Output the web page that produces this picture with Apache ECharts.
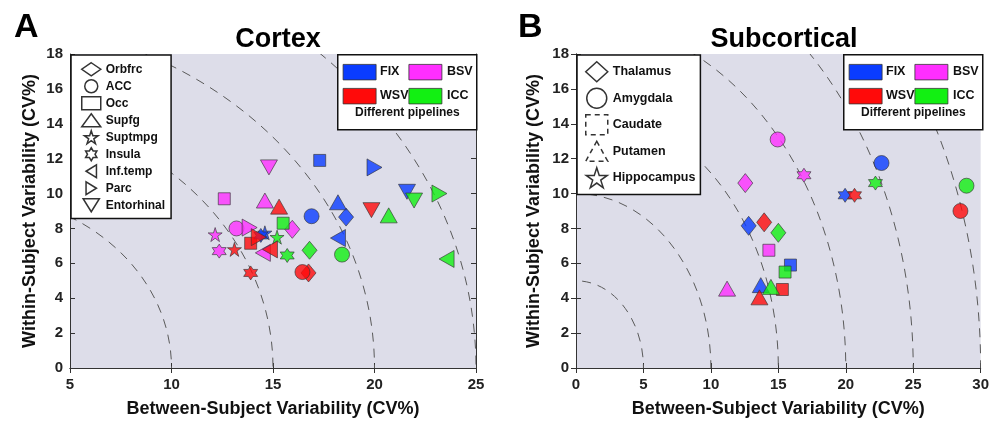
<!DOCTYPE html>
<html>
<head>
<meta charset="utf-8">
<script src="https://cdn.jsdelivr.net/npm/echarts@6/dist/echarts.min.js"></script>
<style>
  html, body { margin: 0; padding: 0; background: #fff; }
  #main { width: 992px; height: 427px; }
</style>
</head>
<body>
<div id="main"></div>
<script>
// pipelines (colour groups)
const pipelines = ["FIX", "BSV", "WSV", "ICC"];

// Cortex panel: [between CV%, within CV%] per region, one array per pipeline
const cortexRegions = ["Orbfrc", "ACC", "Occ", "Supfg", "Suptmpg", "Insula", "Inf.temp", "Parc", "Entorhinal"];
const cortexFIX = [[18.6, 8.65], [16.9, 8.7], [17.3, 11.9], [18.2, 9.5], [14.6, 7.75], [14.4, 7.6], [18.2, 7.45], [20.0, 11.5], [21.6, 10.1]];
const cortexBSV = [[15.95, 7.95], [13.2, 8.0], [12.6, 9.7], [14.6, 9.6], [12.15, 7.65], [12.35, 6.7], [14.5, 6.6], [13.85, 8.05], [14.8, 11.5]];
const cortexWSV = [[16.75, 5.45], [16.45, 5.5], [13.9, 7.15], [15.3, 9.25], [13.1, 6.8], [13.9, 5.45], [14.85, 6.8], [14.3, 7.5], [19.85, 9.05]];
const cortexICC = [[16.8, 6.75], [18.4, 6.5], [15.5, 8.3], [20.7, 8.75], [15.2, 7.5], [15.7, 6.45], [23.55, 6.25], [23.2, 10.0], [21.95, 9.6]];

// Subcortical panel
const subRegions = ["Thalamus", "Amygdala", "Caudate", "Putamen", "Hippocampus"];
const subFIX = [[12.8, 8.15], [22.65, 11.75], [15.9, 5.9], [13.7, 4.75], [19.95, 9.9]];
const subBSV = [[12.55, 10.6], [14.95, 13.1], [14.3, 6.75], [11.2, 4.55], [16.9, 11.05]];
const subWSV = [[13.95, 8.35], [28.5, 9.0], [15.3, 4.5], [13.6, 4.05], [20.65, 9.9]];
const subICC = [[15.0, 7.75], [28.95, 10.45], [15.5, 5.5], [14.45, 4.65], [22.2, 10.6]];

// dashed reference circles (radius in CV%)
const cortexRadii = [10, 15, 20, 25];
const subRadii = [5, 10, 15, 20, 25, 30];

// axis ticks
const cortexXTicks = [5, 25, 5];   // min, max, step
const subXTicks = [0, 30, 5];
const yTicks = [0, 18, 2];

const colors = ["#0a3cff", "#ff2eff", "#ff0a0a", "#12f012"];
const FONT = "'Liberation Sans', Arial, sans-serif";

const star5 = "path://M0,-10L2.25,-3.09L9.51,-3.09L3.63,1.18L5.88,8.09L0,3.82L-5.88,8.09L-3.63,1.18L-9.51,-3.09L-2.25,-3.09Z";
const star6 = "path://M0,-10L2.89,-5L8.66,-5L5.77,0L8.66,5L2.89,5L0,10L-2.89,5L-8.66,5L-5.77,0L-8.66,-5L-2.89,-5Z";
const triDown = "path://M-10,-8L10,-8L0,8Z";
const triLeft = "path://M-8,0L8,-10L8,10Z";
const triRight = "path://M8,0L-8,-10L-8,10Z";

const cortexSymbols = [
  ["diamond", [15, 18]], ["circle", 15], ["rect", 12], ["triangle", [17, 15]],
  [star5, 14], [star6, 14], [triLeft, [15, 17]], [triRight, [15, 17]], [triDown, [17, 15]]
];
const cortexIcons = ["diamond", "circle", "rect", "triangle", star5, star6, triLeft, triRight, triDown];
const subSymbols = [["diamond", [15, 19]], ["circle", 15], ["rect", 12], ["triangle", [17, 15]], [star6, 14]];
const subIcons = ["diamond", "circle", "rect", "triangle", star5];

const chart = echarts.init(document.getElementById("main"));

function scatterSeries(regions, groups, symbols, axisIdx) {
  return regions.map((name, i) => ({
    type: "scatter",
    name: name,
    xAxisIndex: axisIdx,
    yAxisIndex: axisIdx,
    symbol: symbols[i][0],
    symbolSize: symbols[i][1],
    z: 3,
    data: groups.map((g, k) => ({
      value: g[i],
      itemStyle: { color: colors[k], borderColor: "#333", borderWidth: 0.8 }
    }))
  }));
}

function arcSeries(radii, axisIdx) {
  return {
    type: "custom",
    xAxisIndex: axisIdx,
    yAxisIndex: axisIdx,
    clip: true,
    silent: true,
    z: 1,
    data: radii.map((r) => [r]),
    renderItem: function (params, api) {
      const r = api.value(0);
      const c = api.coord([0, 0]);
      const s = api.size([2 * r, 2 * r], [0, 0]);
      return {
        type: "ellipse",
        shape: { cx: c[0], cy: c[1], rx: s[0] / 2, ry: s[1] / 2 },
        style: { fill: null, stroke: "#5a5a5a", lineWidth: 1, lineDash: [9, 7] }
      };
    }
  };
}

function xAxes(grid, t) {
  const base = {
    gridIndex: grid, type: "value", min: t[0], max: t[1], interval: t[2],
    axisLine: { lineStyle: { color: "#333", width: 1 } },
    axisTick: { inside: true, length: 5, lineStyle: { color: "#333" } },
    splitLine: { show: false }
  };
  return [
    Object.assign({}, base, {
      position: "bottom",
      axisLabel: { color: "#222", fontSize: 15, fontWeight: "bold", fontFamily: FONT, margin: 9 },
      name: "Between-Subject Variability (CV%)",
      nameLocation: "middle", nameGap: 32,
      nameTextStyle: { color: "#111", fontSize: 18, fontWeight: "bold", fontFamily: FONT }
    }),
    Object.assign({}, base, { position: "top", axisLabel: { show: false } })
  ];
}

function yAxes(grid, gap) {
  const base = {
    gridIndex: grid, type: "value", min: yTicks[0], max: yTicks[1], interval: yTicks[2],
    axisLine: { lineStyle: { color: "#333", width: 1 } },
    axisTick: { inside: true, length: 5, lineStyle: { color: "#333" } },
    splitLine: { show: false }
  };
  return [
    Object.assign({}, base, {
      position: "left",
      axisLabel: { color: "#222", fontSize: 15, fontWeight: "bold", fontFamily: FONT, margin: 7 },
      name: "Within-Subject Variability (CV%)",
      nameLocation: "middle", nameGap: gap,
      nameTextStyle: { color: "#111", fontSize: 18, fontWeight: "bold", fontFamily: FONT }
    }),
    Object.assign({}, base, { position: "right", axisLabel: { show: false } })
  ];
}

// colour key box built from graphic elements
function pipelineKey(left, top) {
  const els = [{
    type: "rect", left: left, top: top, z: 100,
    shape: { width: 139, height: 75 },
    style: { fill: "#fff", stroke: "#111", lineWidth: 1.5 }
  }];
  const cols = [[5.7, 43], [71.5, 110]];
  const rows = [10, 34];
  pipelines.forEach((p, k) => {
    const c = cols[k % 2], r = rows[Math.floor(k / 2)];
    els.push({
      type: "rect", z: 101, left: left + c[0], top: top + r,
      shape: { width: 33, height: 15.5 },
      style: { fill: colors[k], stroke: "#333", lineWidth: 0.8 }
    });
    els.push({
      type: "text", z: 101, left: left + c[1], top: top + r + 1,
      style: { text: p, fill: "#111", font: "bold 12.5px " + FONT }
    });
  });
  els.push({
    type: "text", z: 101, left: left + 18, top: top + 53,
    style: { text: "Different pipelines", fill: "#111", font: "bold 12px " + FONT }
  });
  return els;
}

const legendStyle = { color: "#fff", borderColor: "#000", borderWidth: 1.5 };

const option = {
  animation: false,
  textStyle: { fontFamily: FONT },
  title: [
    { text: "A", left: 9, top: 6, textStyle: { fontSize: 34, fontWeight: "bold", color: "#000", fontFamily: FONT } },
    { text: "B", left: 513, top: 6, textStyle: { fontSize: 34, fontWeight: "bold", color: "#000", fontFamily: FONT } },
    { text: "Cortex", left: 273, top: 21, textAlign: "center", textStyle: { fontSize: 27, fontWeight: "bold", color: "#000", fontFamily: FONT } },
    { text: "Subcortical", left: 779, top: 21, textAlign: "center", textStyle: { fontSize: 27, fontWeight: "bold", color: "#000", fontFamily: FONT } }
  ],
  grid: [
    { left: 70, top: 54, width: 406, height: 314, show: true, backgroundColor: "#dddde9", borderWidth: 0 },
    { left: 576, top: 54, width: 406, height: 314, show: true, backgroundColor: "#dddde9", borderWidth: 0 }
  ],
  xAxis: xAxes(0, cortexXTicks).concat(xAxes(1, subXTicks)),
  yAxis: yAxes(0, 31).concat(yAxes(1, 33)),
  legend: [
    {
      orient: "vertical", left: 71, top: 55, selectedMode: false,
      backgroundColor: "#fff", borderColor: "#111", borderWidth: 1.5,
      padding: [7, 6, 6, 10], itemWidth: 19, itemHeight: 13, itemGap: 2.5, itemTextGap: 10,
      itemStyle: legendStyle,
      textStyle: { color: "#111", fontSize: 12, fontWeight: "bold", fontFamily: FONT },
      data: cortexRegions.map((n, i) => ({ name: n, icon: cortexIcons[i] }))
    },
    {
      orient: "vertical", left: 577, top: 55, selectedMode: false,
      backgroundColor: "#fff", borderColor: "#111", borderWidth: 1.5,
      padding: [6, 5, 6, 8], itemWidth: 22, itemHeight: 20, itemGap: 5, itemTextGap: 8,
      itemStyle: legendStyle,
      textStyle: { color: "#111", fontSize: 12.5, fontWeight: "bold", fontFamily: FONT },
      data: subRegions.map((n, i) => ({
        name: n, icon: subIcons[i],
        itemStyle: (i === 2 || i === 3) ? { borderType: [5, 4] } : {}
      }))
    }
  ],
  graphic: pipelineKey(337, 54).concat(pipelineKey(843, 54)),
  series: [arcSeries(cortexRadii, 0), arcSeries(subRadii, 2)]
    .concat(scatterSeries(cortexRegions, [cortexFIX, cortexBSV, cortexWSV, cortexICC], cortexSymbols, 0))
    .concat(scatterSeries(subRegions, [subFIX, subBSV, subWSV, subICC], subSymbols, 2))
};

chart.setOption(option);
</script>
</body>
</html>
